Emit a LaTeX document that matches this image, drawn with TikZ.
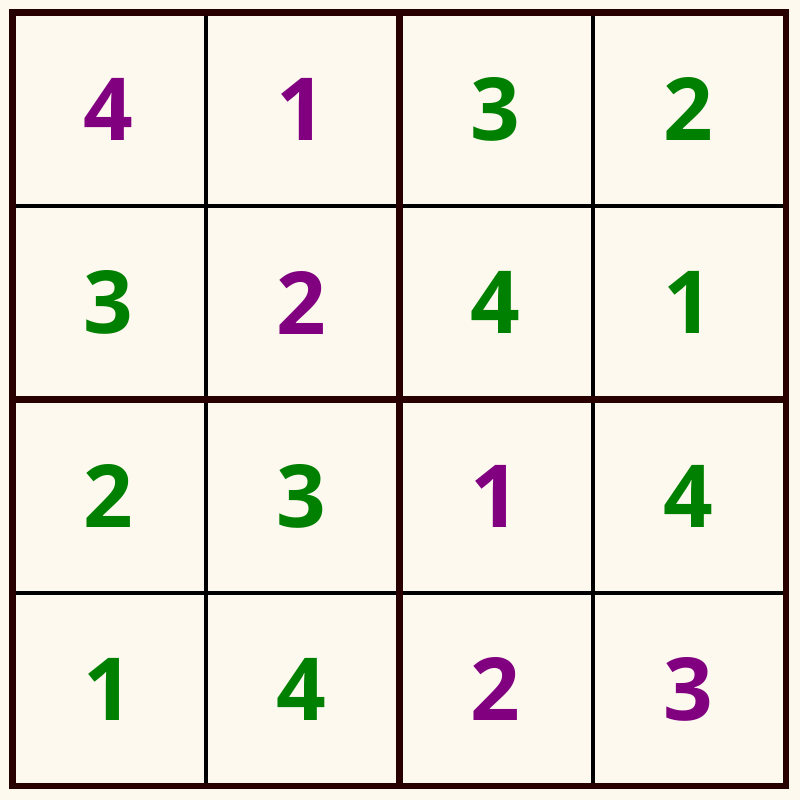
\documentclass[tikz,border=0pt]{standalone}
\usepackage{fontspec}
\setmainfont{Open Sans}
\definecolor{bgcream}{RGB}{253,249,239}
\definecolor{thickline}{RGB}{40,0,0}
\definecolor{digpurple}{RGB}{128,0,128}
\definecolor{diggreen}{RGB}{0,128,0}
\tikzset{
  thinrule/.style={draw=black,line width=3.6pt},
  thickrule/.style={draw=thickline,line width=6.6pt,line cap=rect},
  given/.style={text=digpurple,font=\fontsize{87}{87}\selectfont\bfseries,inner sep=0pt},
  solved/.style={text=diggreen,font=\fontsize{87}{87}\selectfont\bfseries,inner sep=0pt}
}
\begin{document}
\begin{tikzpicture}[x=1pt,y=-1pt]
\useasboundingbox (0,0) rectangle (800,800);
\fill[bgcream] (0,0) rectangle (800,800);
\def\cs{193.4}
\def\ox{12.5}
% thin lines
\foreach \k in {1,3} {
  \draw[thinrule] ({\ox+\k*\cs},\ox) -- ({\ox+\k*\cs},{\ox+4*\cs});
  \draw[thinrule] (\ox,{\ox+\k*\cs}) -- ({\ox+4*\cs},{\ox+\k*\cs});
}
% thick lines
\draw[thickrule] ({\ox+2*\cs},\ox) -- ({\ox+2*\cs},{\ox+4*\cs});
\draw[thickrule] (\ox,{\ox+2*\cs}) -- ({\ox+4*\cs},{\ox+2*\cs});
\draw[thickrule,line join=miter] (\ox,\ox) rectangle ({\ox+4*\cs},{\ox+4*\cs});
% digits
\foreach \r/\c/\v/\s/\n in {
 1/1/4/given/a, 1/2/1/given/b, 1/3/3/solved/c, 1/4/2/solved/d,
 2/1/3/solved/e, 2/2/2/given/f, 2/3/4/solved/g, 2/4/1/solved/h,
 3/1/2/solved/i, 3/2/3/solved/j, 3/3/1/given/k, 3/4/4/solved/l,
 4/1/1/solved/m, 4/2/4/solved/n, 4/3/2/given/o, 4/4/3/given/p} {
  \node[\s] (cell\n) at ({\ox+(\c-0.5)*\cs-1},{\ox+(\r-0.5)*\cs}) {\v};
}
\end{tikzpicture}
\end{document}
